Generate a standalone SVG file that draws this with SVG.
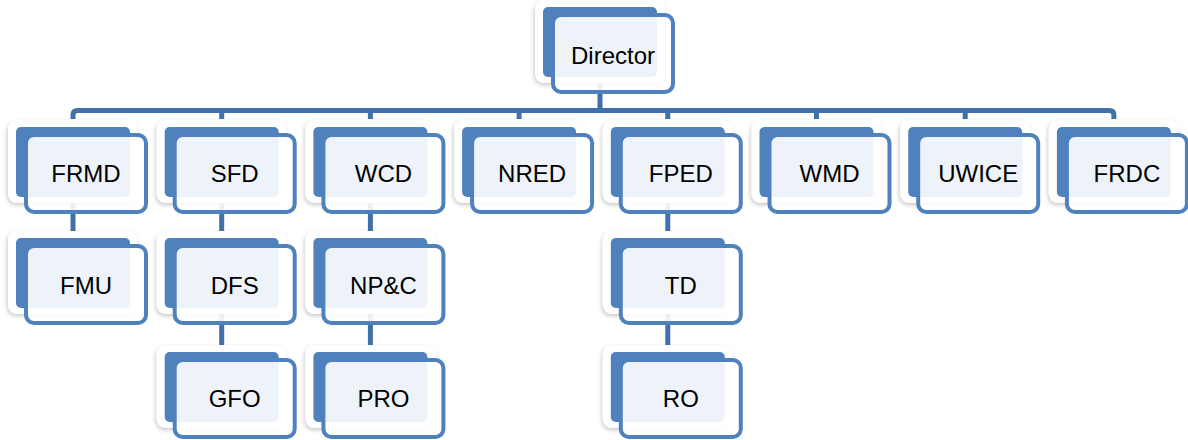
<svg xmlns="http://www.w3.org/2000/svg" xmlns:xlink="http://www.w3.org/1999/xlink" width="1188" height="440" viewBox="0 0 1188 440">
  <style>
    .lbl { font-family: "Liberation Sans", Arial, sans-serif; font-size: 24px; fill: #000; text-anchor: middle; }
    .conn { fill: none; stroke: #4270A8; stroke-width: 5; }
    .backdrop { fill: #ffffff; }
    .back { fill: #4F81BD; }
    .front { fill: #ffffff; fill-opacity: 0.9; stroke: #4F81BD; stroke-width: 4; }
  </style>
  <defs>
    <filter id="shadow" x="-20%" y="-20%" width="140%" height="150%">
      <feDropShadow dx="-1" dy="2" stdDeviation="2" flood-color="#000" flood-opacity="0.22"/>
    </filter>
    <g id="box">
      <rect class="backdrop" x="-8" y="-7" width="130" height="83" rx="9" filter="url(#shadow)"/>
      <rect class="back" x="0" y="0" width="114" height="70" rx="5"/>
      <rect class="front" x="10" y="8" width="120" height="77" rx="8"/>
    </g>
  </defs>
  <rect width="1188" height="440" fill="#ffffff"/>

  <g id="connectors">
    <path class="conn" d="M600,77 V110.5"/>
    <path class="conn" d="M73,119 V115 Q73,110.5 77.5,110.5 H1109.4 Q1113.9,110.5 1113.9,115 V119"/>
    <path class="conn" d="M221.7,110.5 V119 M370.4,110.5 V119 M519.1,110.5 V119 M667.8,110.5 V119 M816.5,110.5 V119 M965.2,110.5 V119"/>
    <path class="conn" d="M73,197 V238"/>
    <path class="conn" d="M221.7,197 V238 M221.7,308 V352"/>
    <path class="conn" d="M370.4,197 V238 M370.4,308 V352"/>
    <path class="conn" d="M667.8,197 V238 M667.8,308 V352"/>
  </g>

  <g id="director" transform="translate(543,7)"><use href="#box" xlink:href="#box"/><text class="lbl" x="70" y="57">Director</text></g>

  <g id="frmd" transform="translate(16,127)"><use href="#box" xlink:href="#box"/><text class="lbl" x="70" y="55">FRMD</text></g>
  <g id="sfd" transform="translate(164.7,127)"><use href="#box" xlink:href="#box"/><text class="lbl" x="70" y="55">SFD</text></g>
  <g id="wcd" transform="translate(313.4,127)"><use href="#box" xlink:href="#box"/><text class="lbl" x="70" y="55">WCD</text></g>
  <g id="nred" transform="translate(462.1,127)"><use href="#box" xlink:href="#box"/><text class="lbl" x="70" y="55">NRED</text></g>
  <g id="fped" transform="translate(610.8,127)"><use href="#box" xlink:href="#box"/><text class="lbl" x="70" y="55">FPED</text></g>
  <g id="wmd" transform="translate(759.5,127)"><use href="#box" xlink:href="#box"/><text class="lbl" x="70" y="55">WMD</text></g>
  <g id="uwice" transform="translate(908.2,127)"><use href="#box" xlink:href="#box"/><text class="lbl" x="70" y="55">UWICE</text></g>
  <g id="frdc" transform="translate(1056.9,127)"><use href="#box" xlink:href="#box"/><text class="lbl" x="70" y="55">FRDC</text></g>

  <g id="fmu" transform="translate(16,238)"><use href="#box" xlink:href="#box"/><text class="lbl" x="70" y="56">FMU</text></g>
  <g id="dfs" transform="translate(164.7,238)"><use href="#box" xlink:href="#box"/><text class="lbl" x="70" y="56">DFS</text></g>
  <g id="npc" transform="translate(313.4,238)"><use href="#box" xlink:href="#box"/><text class="lbl" x="70" y="56">NP&amp;C</text></g>
  <g id="td" transform="translate(610.8,238)"><use href="#box" xlink:href="#box"/><text class="lbl" x="70" y="56">TD</text></g>

  <g id="gfo" transform="translate(164.7,352)"><use href="#box" xlink:href="#box"/><text class="lbl" x="70" y="55">GFO</text></g>
  <g id="pro" transform="translate(313.4,352)"><use href="#box" xlink:href="#box"/><text class="lbl" x="70" y="55">PRO</text></g>
  <g id="ro" transform="translate(610.8,352)"><use href="#box" xlink:href="#box"/><text class="lbl" x="70" y="55">RO</text></g>
</svg>
